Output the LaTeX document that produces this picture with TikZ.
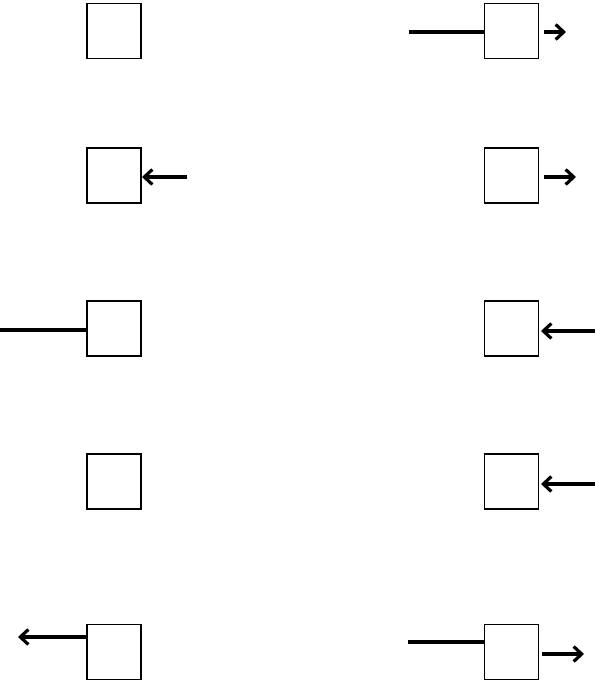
\documentclass[tikz,border=0pt]{standalone}
\usetikzlibrary{arrows.meta}
\begin{document}
\begin{tikzpicture}[x=1pt,y=-1pt,
  sqbox/.style={draw=black,line width=1.3pt,minimum width=54pt,minimum height=55pt,inner sep=0pt,fill=white},
  thick line/.style={line width=3.4pt},
  arr/.style={line width=3.4pt,-{Straight Barb[length=8pt,width=15pt,line width=3.2pt]}}]
\useasboundingbox (0,0) rectangle (595,688);
% boxes
\node[sqbox] (L1) at (114,31) {};
\node[sqbox] (R1) at (511.5,31) {};
\node[sqbox] (L2) at (114,175.5) {};
\node[sqbox] (R2) at (511.5,175.5) {};
\node[sqbox] (L3) at (114,328.5) {};
\node[sqbox] (R3) at (511.5,328.5) {};
\node[sqbox] (L4) at (114,481.5) {};
\node[sqbox] (R4) at (511.5,481.5) {};
\node[sqbox] (L5) at (114,652) {};
\node[sqbox] (R5) at (511.5,652) {};
% free ends
\coordinate (r1in) at (409,32);
\coordinate (r1s) at (544,32);
\coordinate (r1e) at (566,32);
\coordinate (l2s) at (187,177);
\coordinate (l2e) at (142,177);
\coordinate (r2s) at (544,177);
\coordinate (r2e) at (576,177);
\coordinate (l3in) at (0,330);
\coordinate (r3s) at (595,331);
\coordinate (r3e) at (541,331);
\coordinate (r4s) at (595,484);
\coordinate (r4e) at (541,484);
\coordinate (l5s) at (86,637);
\coordinate (l5e) at (18,637);
\coordinate (r5in) at (408,642);
\coordinate (r5s) at (542,654);
\coordinate (r5e) at (584,654);
% connectors
\draw[thick line] (r1in) -- (R1.west |- r1in);
\draw[arr] (r1s) -- (r1e);
\draw[arr] (l2s) -- (l2e);
\draw[arr] (r2s) -- (r2e);
\draw[thick line] (l3in) -- (L3.west |- l3in);
\draw[arr] (r3s) -- (r3e);
\draw[arr] (r4s) -- (r4e);
\draw[arr] (l5s) -- (l5e);
\draw[thick line] (r5in) -- (R5.west |- r5in);
\draw[arr] (r5s) -- (r5e);
\end{tikzpicture}
\end{document}
